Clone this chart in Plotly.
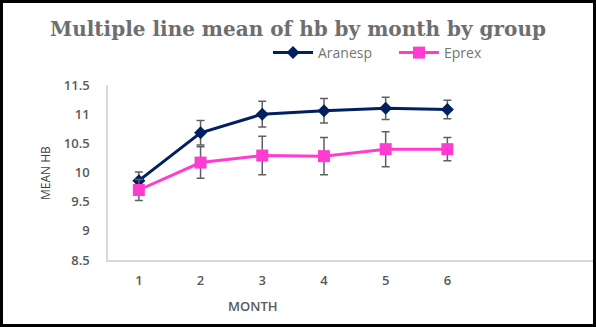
import plotly.graph_objects as go

months = [1, 2, 3, 4, 5, 6]
aranesp = [9.86, 10.68, 11.0, 11.06, 11.1, 11.08]
aranesp_err = [0.15, 0.21, 0.22, 0.21, 0.19, 0.16]
eprex = [9.70, 10.17, 10.29, 10.28, 10.40, 10.40]
eprex_err = [0.18, 0.27, 0.33, 0.32, 0.30, 0.20]

W, H = 596, 327
L, R, T, B = 108, 3, 85, 67
pw = W - L - R
ph = H - T - B

fig = go.Figure()
fig.add_trace(go.Scatter(
    x=months, y=aranesp, name="Aranesp", mode="lines+markers",
    line=dict(color="#002060", width=3),
    marker=dict(symbol="diamond", size=10, color="#002060"),
    error_y=dict(type="data", array=aranesp_err, color="#606060", thickness=1.5, width=4),
    legend="legend",
))
fig.add_trace(go.Scatter(
    x=months, y=eprex, name="Eprex", mode="lines+markers",
    line=dict(color="#FF3CCF", width=3),
    marker=dict(symbol="square", size=12, color="#FF3CCF"),
    error_y=dict(type="data", array=eprex_err, color="#606060", thickness=1.5, width=4),
    legend="legend2",
))

def px_x(p):
    return (p - L) / pw

def px_y(p):
    return (H - B - p) / ph

tickfont = dict(family="Open Sans, sans-serif", size=13, color="#595959", weight=600)
legfont = dict(family="Open Sans, sans-serif", size=14, color="#747474")

fig.update_layout(
    width=W, height=H,
    margin=dict(l=L, r=R, t=T, b=B, pad=0),
    paper_bgcolor="white", plot_bgcolor="white",
    showlegend=True,
    legend=dict(orientation="h", x=px_x(268), y=px_y(53), xanchor="left", yanchor="middle",
                font=legfont, bgcolor="rgba(0,0,0,0)", itemwidth=40),
    legend2=dict(orientation="h", x=px_x(394), y=px_y(53), xanchor="left", yanchor="middle",
                 font=legfont, bgcolor="rgba(0,0,0,0)", itemwidth=40),
    title=dict(text="<b>Multiple line mean of hb by month by group</b>",
               x=0.5, xref="container", xanchor="center",
               y=1 - 29 / H, yref="container", yanchor="middle",
               font=dict(family="DejaVu Serif, serif", size=20, color="#6e6e6e")),
    xaxis=dict(range=[0.5, 8.36], tickmode="array", tickvals=months,
               ticktext=[str(m) for m in months],
               showgrid=False, zeroline=False, showline=True, linecolor="#d9d9d9", linewidth=1.5,
               ticks="outside", ticklen=8, tickcolor="rgba(0,0,0,0)",
               tickfont=tickfont, fixedrange=True),
    yaxis=dict(range=[8.5, 11.5], tickmode="array",
               tickvals=[8.5, 9, 9.5, 10, 10.5, 11, 11.5],
               ticktext=["8.5", "9", "9.5", "10", "10.5", "11", "11.5"],
               showgrid=False, zeroline=False, showline=True, linecolor="#d9d9d9", linewidth=1.5,
               ticks="outside", ticklen=14, tickcolor="rgba(0,0,0,0)",
               tickfont=tickfont, fixedrange=True),
    shapes=[dict(type="rect", xref="paper", yref="paper",
                 x0=px_x(1.5), x1=px_x(594.5), y0=px_y(325.5), y1=px_y(1.5),
                 line=dict(color="black", width=3), fillcolor="rgba(0,0,0,0)", layer="above")],
    annotations=[
        dict(text="MONTH", xref="paper", yref="paper", x=px_x(253), y=px_y(306),
             xanchor="center", yanchor="middle", showarrow=False,
             font=dict(family="Open Sans, sans-serif", size=13, color="#595959", weight=600)),
        dict(text="MEAN HB", xref="paper", yref="paper", x=px_x(45), y=px_y(173),
             xanchor="center", yanchor="middle", showarrow=False, textangle=-90,
             font=dict(family="Open Sans, sans-serif", size=12, color="#404040")),
    ],
)

fig.write_html("out.html")
